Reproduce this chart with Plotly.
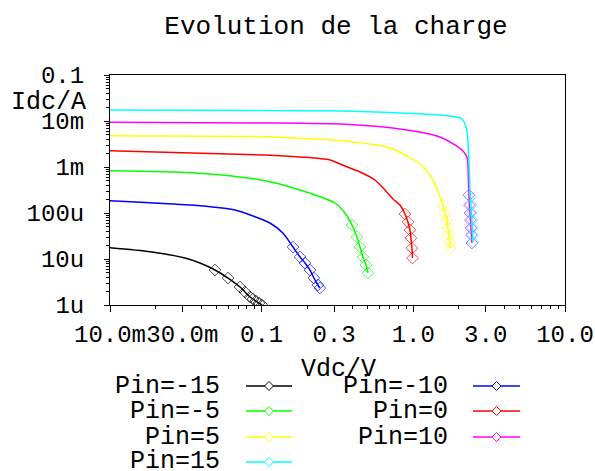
import plotly.graph_objects as go

# ---------------- data ----------------
series_names = ["Pin=-15", "Pin=-10", "Pin=-5", "Pin=0", "Pin=5", "Pin=10", "Pin=15"]
series_colors = ["#000000", "#0000ff", "#00ff00", "#ff0000", "#ffff00", "#ff00ff", "#00ffff"]

vdc_m15 = [0.01, 0.0184, 0.0312, 0.0392, 0.0492, 0.0600, 0.0720, 0.0776, 0.0838, 0.0877, 0.0917, 0.096, 0.1005]
idc_m15 = [1.76e-5, 1.44e-5, 1.05e-5, 8.18e-6, 5.77e-6, 3.86e-6, 2.46e-6, 1.92e-6, 1.49e-6, 1.35e-6, 1.22e-6, 1.105e-6, 1.0e-6]

vdc_m10 = [0.01, 0.0184, 0.0392, 0.0667, 0.0903, 0.1134, 0.138, 0.161, 0.179, 0.193, 0.208, 0.221, 0.235, 0.242]
idc_m10 = [1.85e-4, 1.67e-4, 1.44e-4, 1.16e-4, 8.31e-5, 6.06e-5, 3.67e-5, 1.82e-5, 1.105e-5, 8.18e-6, 5.77e-6, 3.86e-6, 2.72e-6, 2.34e-6]

vdc_m5 = [0.01, 0.0268, 0.0618, 0.1134, 0.179, 0.242, 0.304, 0.354, 0.394, 0.425, 0.445, 0.465, 0.487, 0.502]
idc_m5 = [8.31e-4, 7.79e-4, 6.47e-4, 4.79e-4, 3.16e-4, 2.26e-4, 1.65e-4, 1.0e-4, 5.48e-5, 3.01e-5, 1.82e-5, 1.105e-5, 7.41e-6, 4.96e-6]

vdc_0 = [0.01, 0.105, 0.179, 0.282, 0.354, 0.445, 0.558, 0.650, 0.734, 0.816, 0.880, 0.921, 0.950, 0.964, 0.979, 0.987]
idc_0 = [2.26e-3, 1.82e-3, 1.65e-3, 1.42e-3, 1.05e-3, 7.79e-4, 5.22e-4, 3.16e-4, 2.02e-4, 1.49e-4, 9.51e-5, 6.37e-5, 4.27e-5, 2.86e-5, 1.73e-5, 1.05e-5]

vdc_p5 = [0.01, 0.105, 0.179, 0.354, 0.701, 1.105, 1.346, 1.497, 1.567, 1.616, 1.665, 1.69, 1.716, 1.743, 1.756]
idc_p5 = [4.79e-3, 4.56e-3, 4.21e-3, 3.67e-3, 2.59e-3, 1.16e-3, 5.22e-4, 2.23e-4, 1.49e-4, 1.0e-4, 7.04e-5, 4.72e-5, 3.32e-5, 2.34e-5, 1.73e-5]

vdc_p10 = [0.01, 0.1, 0.354, 0.816, 1.497, 1.88, 2.123, 2.256, 2.291, 2.308, 2.326, 2.344, 2.362, 2.380, 2.398, 2.416, 2.434]
idc_p10 = [9.37e-3, 9.05e-3, 8.48e-3, 6.70e-3, 4.49e-3, 3.01e-3, 2.23e-3, 1.65e-3, 1.11e-3, 5.22e-4, 2.46e-4, 1.49e-4, 1.0e-4, 7.04e-5, 4.72e-5, 3.32e-5, 2.23e-5]

vdc_p15 = [0.01, 0.1, 0.328, 0.816, 1.497, 2.029, 2.123, 2.188, 2.256, 2.326, 2.362, 2.380, 2.398, 2.416, 2.434, 2.452, 2.463, 2.471]
idc_p15 = [0.01734, 0.01692, 0.0165, 0.01493, 0.0135, 0.01162, 0.01051, 0.00861, 0.00637, 0.00142, 3.16e-4, 2.23e-4, 1.49e-4, 1.0e-4, 7.04e-5, 4.72e-5, 3.32e-5, 2.34e-5]

# index from which the sweep points carry diamond markers
marker_start = [4, 7, 8, 10, 8, 10, 11]

x_tick_vals = [0.01, 0.03, 0.1, 0.3, 1, 3, 10]
x_tick_text = ["10.0m", "30.0m", "0.1", "0.3", "1.0", "3.0", "10.0"]
y_tick_vals = [1e-6, 1e-5, 1e-4, 1e-3, 1e-2, 1e-1]
y_tick_text = ["1u", "10u", "100u", "1m", "10m", "0.1"]

vdc_all = [vdc_m15, vdc_m10, vdc_m5, vdc_0, vdc_p5, vdc_p10, vdc_p15]
idc_all = [idc_m15, idc_m10, idc_m5, idc_0, idc_p5, idc_p10, idc_p15]

# ---------------- layout geometry ----------------
W, H = 595, 471
L, R, T, B = 110, 565, 75, 305
PW, PH = R - L, B - T
FONT = "Liberation Mono, Courier New, monospace"


def paper(px, py):
    return (px - L) / PW, (B - py) / PH


fig = go.Figure()

for name, col, xs, ys, k in zip(series_names, series_colors, vdc_all, idc_all, marker_start):
    sizes = [0] * k + [9] * (len(xs) - k)
    fig.add_trace(go.Scatter(
        x=xs, y=ys, name=name, mode="lines+markers",
        line=dict(color=col, width=1.5, shape="spline", smoothing=0.7),
        marker=dict(symbol="diamond-open", size=sizes, color=col, line=dict(color=col, width=1)),
        showlegend=False,
    ))

x_minor = [m * d for d in (0.01, 0.1, 1) for m in (2, 4, 5, 6, 7, 8, 9)]
y_minor = [m * d for d in (1e-6, 1e-5, 1e-4, 1e-3, 1e-2) for m in (2, 3, 4, 5, 6, 7, 8, 9)]

fig.update_xaxes(
    type="log", range=[-2, 1], tickmode="array", tickvals=x_tick_vals, ticktext=x_tick_text,
    tickangle=0, ticks="outside", ticklen=6, tickcolor="black", tickwidth=1,
    ticklabelstandoff=1, automargin=False,
    minor=dict(tickmode="array", tickvals=x_minor, ticks="outside", ticklen=3, tickcolor="black", showgrid=False),
    showline=True, linecolor="black", linewidth=1, mirror=True, showgrid=False, zeroline=False,
    tickfont=dict(family=FONT, size=24, color="black"),
)
fig.update_yaxes(
    type="log", range=[-6, -1], tickmode="array", tickvals=y_tick_vals, ticktext=y_tick_text,
    ticks="outside", ticklen=5, tickcolor="black", tickwidth=1,
    ticklabelstandoff=15, automargin=False,
    minor=dict(tickmode="array", tickvals=y_minor, ticks="outside", ticklen=3, tickcolor="black", showgrid=False),
    showline=True, linecolor="black", linewidth=1, mirror=True, showgrid=False, zeroline=False,
    tickfont=dict(family=FONT, size=24, color="black"),
)

annotations = []
shapes = []
# axis titles
ax, ay = paper(88, 102)
annotations.append(dict(text="Idc/A", xref="paper", yref="paper", x=ax, y=ay, xanchor="right", yanchor="middle",
                        showarrow=False, font=dict(family=FONT, size=25, color="black")))
ax, ay = paper(338, 369)
annotations.append(dict(text="Vdc/V", xref="paper", yref="paper", x=ax, y=ay, xanchor="center", yanchor="middle",
                        showarrow=False, font=dict(family=FONT, size=25, color="black")))

# custom legend: text on the left, line sample with diamond on the right
row_y = [386, 411, 437, 462]
col_text_right = [222, 450]
col_line = [(246, 292), (473, 520)]
hx, hy = 4.5 / PW, 4.5 / PH
for i, (name, col) in enumerate(zip(series_names, series_colors)):
    r, c = i // 2, i % 2
    py = row_y[r]
    tx, ty = paper(col_text_right[c], py)
    annotations.append(dict(text=name, xref="paper", yref="paper", x=tx, y=ty, xanchor="right", yanchor="middle",
                            showarrow=False, font=dict(family=FONT, size=25, color="black")))
    x0, y0 = paper(col_line[c][0], py)
    x1, _ = paper(col_line[c][1], py)
    shapes.append(dict(type="line", xref="paper", yref="paper", x0=x0, x1=x1, y0=y0, y1=y0,
                       line=dict(color=col, width=1.5)))
    cx = (x0 + x1) / 2
    path = f"M {cx - hx} {y0} L {cx} {y0 + hy} L {cx + hx} {y0} L {cx} {y0 - hy} Z"
    shapes.append(dict(type="path", xref="paper", yref="paper", path=path,
                       line=dict(color=col, width=1), fillcolor="white"))

fig.update_layout(
    width=W, height=H,
    margin=dict(l=L, r=W - R, t=T, b=H - B, pad=0),
    paper_bgcolor="white", plot_bgcolor="white",
    title=dict(text="Evolution de la charge", x=(336) / W, xanchor="center", xref="container",
               y=1 - 25 / H, yanchor="middle", yref="container",
               font=dict(family=FONT, size=26, color="black")),
    annotations=annotations, shapes=shapes,
    showlegend=False,
)

fig.write_html("out.html")
